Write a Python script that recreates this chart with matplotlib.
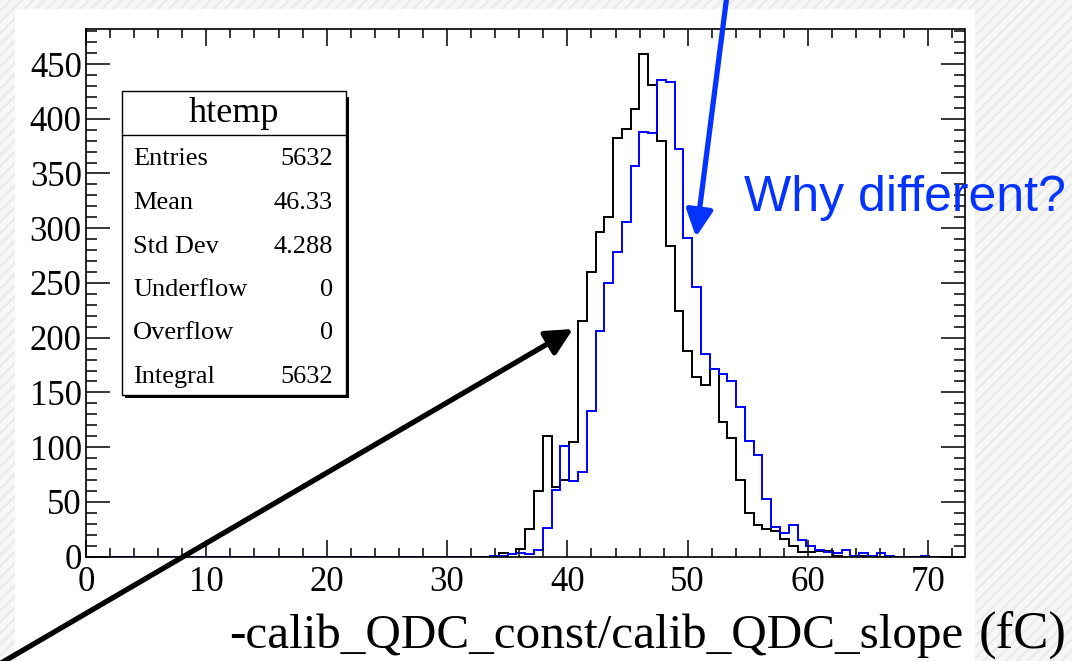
#Libraries
import numpy as np
import matplotlib
matplotlib.use('Agg')
import matplotlib.pyplot as plt
from matplotlib.patches import Rectangle
from matplotlib.ticker import MultipleLocator

#Histogram data (100 bins from 0 to 73, counts start at bin 46)
n_bins=100
x_max=73.0
first_bin=46
black_counts=[1,3,2,7,25,60,110,64,70,105,215,260,297,310,382,391,409,459,431,380,
              284,224,188,164,157,171,123,108,70,40,29,25,23,16,10,4,4,5,5,1,
              0,1,1,1,0,1,0,0,0,1]
blue_counts=[1,1,2,3,2,6,26,61,101,69,77,133,206,250,278,306,357,388,387,435,
             434,372,291,246,185,171,167,160,137,106,93,53,27,22,29,15,10,6,4,3,
             6,1,3,1,3,1,0,0,0,1]

#Stats box
stats_title='htemp'
stats_labels=['Entries','Mean','Std Dev','Underflow','Overflow','Integral']
stats_values=['5632','46.33','4.288','0','0','5632']

x_ticks=[0,10,20,30,40,50,60,70]
y_ticks=[0,50,100,150,200,250,300,350,400,450]

W,H=1072,661
serif='Liberation Serif'
sans='Liberation Sans'
blue_txt='#0433FF'
plt.rcParams['hatch.linewidth']=1.6

def fx(x): return x/W
def fy(y): return 1-y/H

fig=plt.figure(figsize=(W/100,H/100),dpi=100)

#Hatched slide background and white area
fig.patches.append(Rectangle((0,0),1,1,transform=fig.transFigure,facecolor='#f7f7f7',
                             edgecolor='#eaeaea',hatch='///',lw=0,zorder=-10))
fig.patches.append(Rectangle((fx(15),0),fx(960),fy(9),transform=fig.transFigure,
                             facecolor='white',edgecolor='none',zorder=-9))

#Axes
ax=fig.add_axes([fx(86),fy(556.6),fx(964.5-86),(556.6-29)/H])
edges=np.arange(n_bins+1)*x_max/n_bins
black_full=np.zeros(n_bins)
black_full[first_bin:first_bin+len(black_counts)]=black_counts
blue_full=np.zeros(n_bins)
blue_full[first_bin:first_bin+len(blue_counts)]=blue_counts
ax.stairs(black_full,edges,color='black',lw=1.4)
ax.stairs(blue_full,edges,color='blue',lw=1.4)

ax.set_xlim(0,x_max)
ax.set_ylim(0,482)
ax.set_xticks(x_ticks)
ax.set_yticks(y_ticks)
ax.xaxis.set_minor_locator(MultipleLocator(2))
ax.yaxis.set_minor_locator(MultipleLocator(10))
ax.tick_params(which='both',direction='in',top=True,right=True,width=1.1,color='black')
ax.tick_params(axis='x',which='major',length=12,pad=7)
ax.tick_params(axis='x',which='minor',length=6.5)
ax.tick_params(axis='y',which='major',length=17,pad=3)
ax.tick_params(axis='y',which='minor',length=8)
for lab in ax.get_xticklabels()+ax.get_yticklabels():
    lab.set_fontfamily(serif)
    lab.set_fontsize(25)
for s in ax.spines.values():
    s.set_linewidth(1.2)

#Axis title
fig.text(fx(963),fy(648),'-calib_QDC_const/calib_QDC_slope',family=serif,fontsize=35.4,
         ha='right',va='baseline')
fig.text(fx(979),fy(648),'(fC)',family=serif,fontsize=38,ha='left',va='baseline')

#Stats box
fig.patches.append(Rectangle((fx(125),fy(398)),fx(224),(398-97)/H,transform=fig.transFigure,
                             facecolor='black',edgecolor='none',zorder=5))
fig.patches.append(Rectangle((fx(122),fy(395)),fx(224),(395-91)/H,transform=fig.transFigure,
                             facecolor='white',edgecolor='black',lw=1.0,zorder=6))
fig.add_artist(plt.Line2D([fx(122),fx(346)],[fy(135),fy(135)],transform=fig.transFigure,
                          color='black',lw=1.0,zorder=7))
fig.text(fx(234),fy(113),stats_title,family=serif,fontsize=26,ha='center',va='center',zorder=8)
row_y=[159,203,247,290,333,377]
for lab,val,y in zip(stats_labels,stats_values,row_y):
    fig.text(fx(133),fy(y),lab,family=serif,fontsize=19,ha='left',va='center',zorder=8)
    fig.text(fx(333),fy(y),val,family=serif,fontsize=19,ha='right',va='center',zorder=8)

#Annotations
ax.annotate('',xy=(573,H-329),xytext=(-4,H-666),xycoords='figure pixels',
            textcoords='figure pixels',annotation_clip=False,
            arrowprops=dict(arrowstyle='-|>,head_length=0.8,head_width=0.4',color='black',
                            lw=3.8,mutation_scale=20,shrinkA=0,shrinkB=0))
ax.annotate('',xy=(696,H-237),xytext=(727,H+5),xycoords='figure pixels',
            textcoords='figure pixels',annotation_clip=False,
            arrowprops=dict(arrowstyle='-|>,head_length=0.8,head_width=0.4',color=blue_txt,
                            lw=3.8,mutation_scale=20,shrinkA=0,shrinkB=0))
fig.text(fx(744),fy(211),'Why different?',family=sans,fontsize=36,color=blue_txt,
         ha='left',va='baseline',zorder=10)

fig.savefig('out.png',dpi=100)
